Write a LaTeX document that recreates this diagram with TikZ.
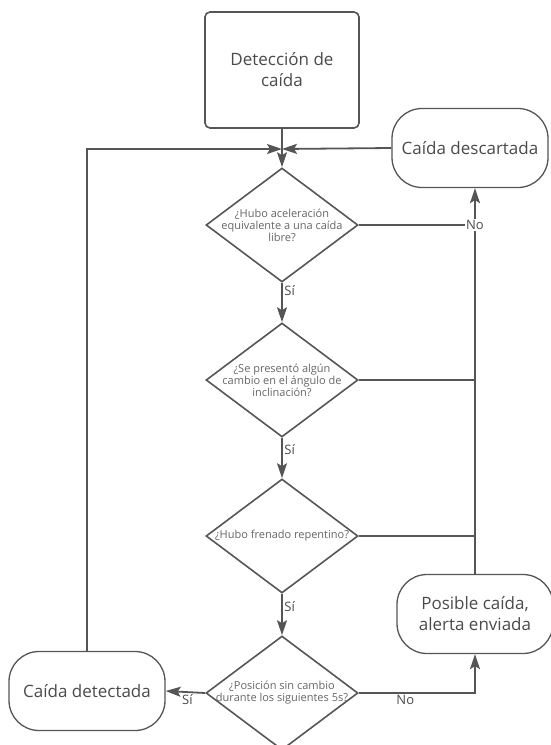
\documentclass[tikz,border=0pt]{standalone}
\usepackage{fontspec}
\setmainfont{Open Sans}
\usetikzlibrary{shapes.geometric,arrows.meta}
\definecolor{ln}{HTML}{555555}
\definecolor{tx}{HTML}{4A4A4A}
\begin{document}
\begin{tikzpicture}[x=1pt,y=-1pt,
  every node/.style={text=tx},
  startbox/.style={draw=ln, line width=1.6pt, rounded corners=5pt, minimum width=154pt, minimum height=116pt, align=center, font=\fontsize{17}{21}\selectfont},
  term/.style={draw=ln, line width=1.3pt, rectangle, rounded corners=30pt, minimum width=156pt, minimum height=79pt, align=center, font=\fontsize{17}{21}\selectfont},
  dec/.style={draw=ln, line width=1.6pt, diamond, minimum width=152pt, minimum height=114pt, inner sep=0pt},
  dectext/.style={align=center, text=tx!85, font=\fontsize{11}{12}\selectfont},
  conn/.style={draw=ln, line width=1.8pt},
  arr/.style={conn, -{Stealth[length=15pt,width=10pt,inset=3pt]}},
  lbl/.style={font=\fontsize{13}{15}\selectfont, inner sep=1.5pt}
]
\useasboundingbox (0,0) rectangle (551,745);

\node[startbox] (top) at (282,70) {Detección de\\caída};
\coordinate (J) at (282,149);
\node[term] (desc) at (470,148) {Caída descartada};
\node[dec] (d1) at (282,225) {};
\node[dectext] (t1) at (d1.center) {¿Hubo aceleración\\equivalente a una caída\\libre?};
\node[dec] (d2) at (282,380) {};
\node[dectext] (t2) at (d2.center) {¿Se presentó algún\\cambio en el ángulo de\\inclinación?};
\node[dec] (d3) at (282,536) {};
\node[dectext] (t3) at (d3.center) {¿Hubo frenado repentino?};
\node[dec] (d4) at (282,693) {};
\node[dectext] (t4) at (d4.center) {¿Posición sin cambio\\durante los siguientes 5s?};
\node[term] (det) at (87,691) {Caída detectada};
\node[term] (pos) at (475,614) {Posible caída,\\alerta enviada};

\coordinate (v1) at (d1.east -| pos.north);
\coordinate (v2) at (d2.east -| pos.north);
\coordinate (v3) at (d3.east -| pos.north);

\draw[conn] (top.south) -- (J);
\draw[arr] (det.north) |- (J);
\draw[arr] (desc.west) -- (J);
\draw[arr] (J) -- (d1.north);
\draw[arr] (d1.south) -- node[lbl, right, pos=0.2] {Sí} (d2.north);
\draw[arr] (d2.south) -- node[lbl, right, pos=0.3] {Sí} (d3.north);
\draw[arr] (d3.south) -- node[lbl, right, pos=0.3] {Sí} (d4.north);
\draw[arr] (pos.north) -- (pos.north |- desc.south);
\draw[conn] (d1.east) -- (v1);
\draw[conn] (d2.east) -- (v2);
\draw[conn] (d3.east) -- (v3);
\node[lbl, fill=white, inner sep=1pt] (no1) at (v1) {No};
\draw[arr] (d4.west) -- node[lbl, below, pos=0.45] {Sí} (det.east);
\draw[arr] (d4.east) -| node[lbl, below, pos=0.2] {No} (pos.south);
\end{tikzpicture}
\end{document}
